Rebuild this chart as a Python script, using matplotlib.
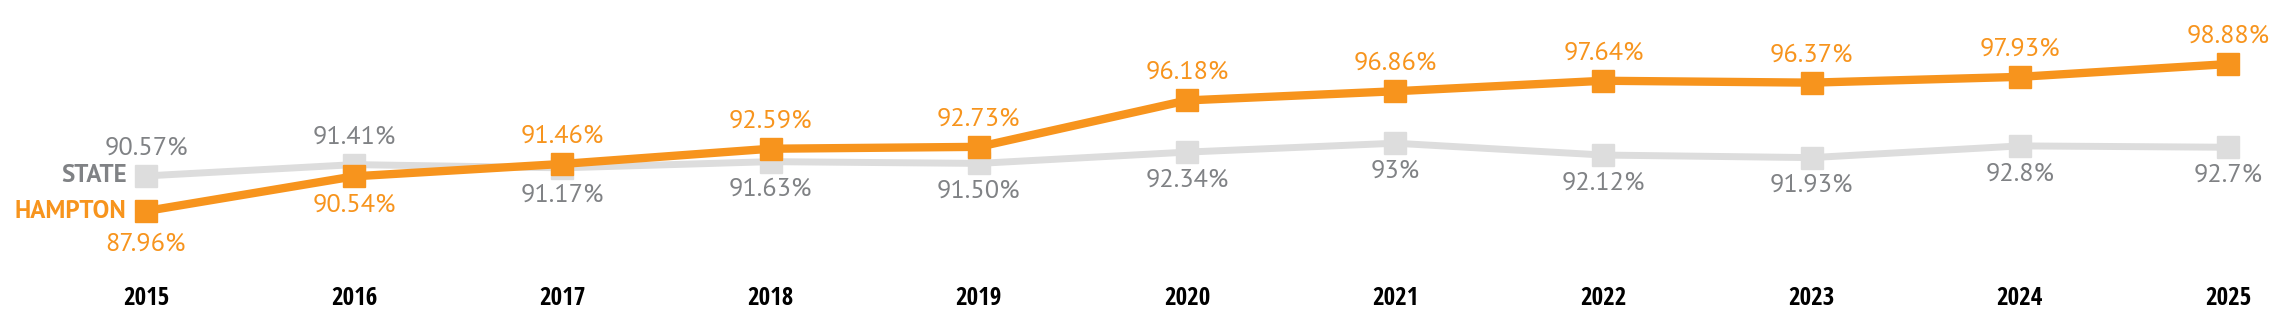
import matplotlib.pyplot as plt

# data (2023 hampton marker sits higher than its label says)
years = [2015, 2016, 2017, 2018, 2019, 2020, 2021, 2022, 2023, 2024, 2025]
hampton = [87.96, 90.54, 91.46, 92.59, 92.73, 96.18, 96.86, 97.64, 97.50, 97.93, 98.88]
state = [90.57, 91.41, 91.17, 91.63, 91.50, 92.34, 93.00, 92.12, 91.93, 92.80, 92.70]
hampton_labels = ["87.96%", "90.54%", "91.46%", "92.59%", "92.73%", "96.18%",
                  "96.86%", "97.64%", "96.37%", "97.93%", "98.88%"]
state_labels = ["90.57%", "91.41%", "91.17%", "91.63%", "91.50%", "92.34%",
                "93%", "92.12%", "91.93%", "92.8%", "92.7%"]

ORANGE = "#F7941D"
LIGHT = "#DDDDDD"
GRAY = "#808285"

label_font = ['PT Sans', 'Fira Sans', 'DejaVu Sans']
year_font = ['Open Sans Condensed', 'Fira Sans Condensed', 'DejaVu Sans']

fig = plt.figure(figsize=(22.86, 3.26), dpi=100)
ax = fig.add_axes([0, 0, 1, 1])
ax.set_xlim(2014.299, 2025.278)
ax.set_ylim(79.42, 103.64)
ax.axis('off')

ax.plot(years, state, color=LIGHT, lw=5, marker='s', ms=16, zorder=2)
ax.plot(years, hampton, color=ORANGE, lw=6, marker='s', ms=16, zorder=3)

for i, y in enumerate(years):
    # first two years: hampton below / state above, afterwards the other way round
    if i == 0:
        h_off = -24
    elif i == 1:
        h_off = -21
    else:
        h_off = 20
    s_off = 20 if i < 2 else -20
    ax.annotate(hampton_labels[i], (y, hampton[i]), xytext=(0, h_off),
                textcoords='offset points', ha='center', va='center',
                fontsize=19, color=ORANGE, family=label_font, zorder=4)
    ax.annotate(state_labels[i], (y, state[i]), xytext=(0, s_off),
                textcoords='offset points', ha='center', va='center',
                fontsize=19, color=GRAY, family=label_font, zorder=4)
    ax.text(y, 0.083, str(y), transform=ax.get_xaxis_transform(), ha='center',
            va='center', fontsize=18, fontweight='bold', color='black', family=year_font)

ax.annotate("STATE", (years[0], state[0]), xytext=(-14, 0), textcoords='offset points',
            ha='right', va='center', fontsize=18, fontweight='bold', color=GRAY, family=label_font)
ax.annotate("HAMPTON", (years[0], hampton[0]), xytext=(-14, 0), textcoords='offset points',
            ha='right', va='center', fontsize=18, fontweight='bold', color=ORANGE, family=label_font)

fig.savefig("out.png", dpi=100)
